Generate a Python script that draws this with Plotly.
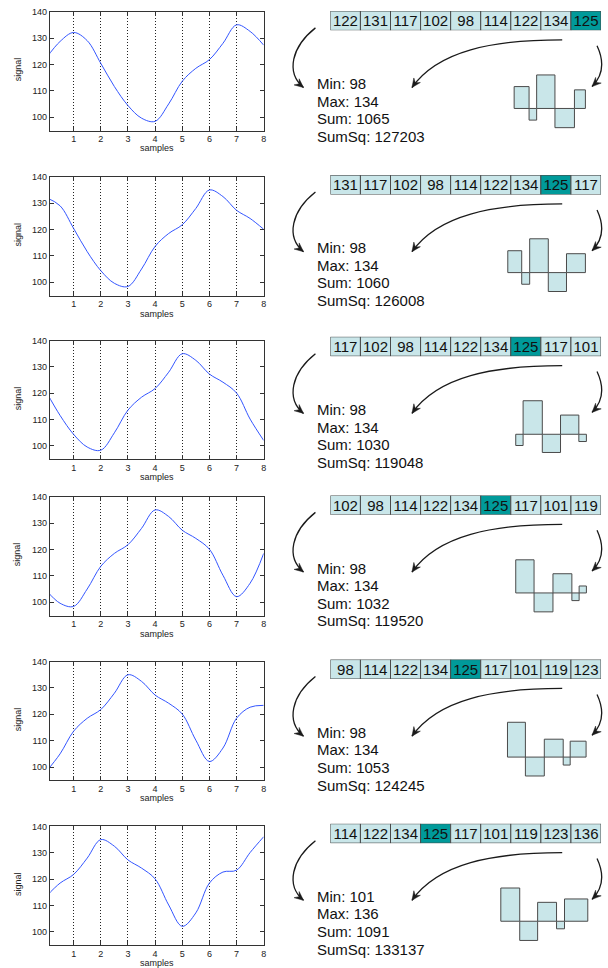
import plotly.graph_objects as go

# ---------------- data ----------------
# continuous signal (t in samples, 0.5 step)
signal_t = [0.0, 0.5, 1.0, 1.5, 2.0, 2.5, 3.0, 3.5, 4.0, 4.5, 5.0, 5.5, 6.0, 6.5,
            7.0, 7.5, 8.0, 8.5, 9.0, 9.5, 10.0, 10.5, 11.0, 11.5, 12.0, 12.5, 13.0]
signal_y = [122.5, 128.7, 132.1, 129.0, 120.4, 111.6, 104.4, 99.6, 98.4, 105.0,
            113.6, 118.5, 121.8, 128.0, 135.0, 132.5, 127.3, 124.2, 120.1, 110.2,
            102.1, 107.2, 118.5, 122.7, 123.4, 130.1, 136.1]

samples = [122, 131, 117, 102, 98, 114, 122, 134, 125, 117, 101, 119, 123, 136]
window_len = 9
highlight_sample = 8          # index of the newest sample (125)

min_vals = [98, 98, 98, 98, 98, 101]
max_vals = [134, 134, 134, 134, 134, 136]
sum_vals = [1065, 1060, 1030, 1032, 1053, 1091]
sumsq_vals = [127203, 126008, 119048, 119520, 124245, 133137]

x_ticks = [1, 2, 3, 4, 5, 6, 7, 8]
y_ticks = [100, 110, 120, 130, 140]

# small step histograms (bar widths and signed heights)
hist_lead = [28.7, 22.3, 30.3, 30.3, 22.0, 15.3]
hist_widths = [
    [15.0, 7.6, 18.4, 19.6, 11.0],
    [14.0, 8.0, 18.7, 18.3, 19.0],
    [7.4, 19.3, 18.3, 18.4, 7.6],
    [18.4, 19.0, 19.0, 7.3, 7.3],
    [18.0, 19.0, 19.0, 7.0, 16.0],
    [19.0, 18.0, 19.0, 8.0, 23.4],
]
hist_heights = [
    [22.0, -11.7, 33.7, -19.3, 18.7],
    [22.0, -11.7, 34.0, -19.0, 19.0],
    [-11.3, 33.7, -18.3, 19.3, -7.3],
    [33.3, -19.0, 19.3, -7.7, 7.0],
    [35.0, -19.0, 18.0, -8.0, 16.0],
    [33.4, -19.3, 19.0, -7.6, 22.4],
]

# ---------------- layout constants ----------------
W, H = 608, 968
FONT = "Liberation Sans, Arial, Helvetica, sans-serif"
plot_tops = [6.7, 172.7, 337.3, 494.3, 660.0, 825.7]
group_tops = [6.0, 171.0, 333.5, 493.0, 658.0, 823.0]
PLOT_H = 119.5
PX0, PX1 = 50, 265
BX0, BX1 = 332, 604
HX0, HX1 = 488, 600
LIGHT = "#c9e6e9"
DARK = "#009a9a"
EDGE = "#4a4a4a"


def xd(a, b):
    return [a / W, b / W]


def yd(top, bottom):
    return [1 - bottom / H, 1 - top / H]


def aname(n, axis):
    return f"{axis}axis" if n == 1 else f"{axis}axis{n}"


def aref(n, axis):
    return axis if n == 1 else f"{axis}{n}"


fig = go.Figure()
layout = {}
shapes = []
annotations = []

OV = 19  # overlay axis in pixel units

for k in range(6):
    n_plot, n_box, n_hist = 3 * k + 1, 3 * k + 2, 3 * k + 3
    top = plot_tops[k]
    gt = group_tops[k]

    # ----- signal plot -----
    xs = [t - k for t in signal_t if k - 0.01 <= t <= k + 8.01]
    ys = [y for t, y in zip(signal_t, signal_y) if k - 0.01 <= t <= k + 8.01]
    fig.add_trace(go.Scatter(x=xs, y=ys, mode="lines",
                             line=dict(color="#3355ff", width=1, shape="spline", smoothing=1.0),
                             xaxis=aref(n_plot, "x"), yaxis=aref(n_plot, "y"),
                             showlegend=False, hoverinfo="skip"))
    layout[aname(n_plot, "x")] = dict(
        domain=xd(PX0, PX1), anchor=aref(n_plot, "y"), range=[0.12, 8],
        tickvals=x_ticks, ticks="inside", ticklen=4, tickcolor="#333",
        showline=True, linecolor="#333", linewidth=1, mirror="ticks",
        showgrid=True, gridcolor="#222", gridwidth=1, griddash="1px,2px",
        zeroline=False, tickfont=dict(size=9, color="#222", family=FONT))
    layout[aname(n_plot, "y")] = dict(
        domain=yd(top, top + PLOT_H), anchor=aref(n_plot, "x"), range=[94.9, 140],
        tickvals=y_ticks, ticks="inside", ticklen=4, tickcolor="#333",
        showline=True, linecolor="#333", linewidth=1, mirror="ticks",
        showgrid=False, zeroline=False, tickfont=dict(size=9, color="#222", family=FONT))
    annotations.append(dict(x=(PX0 + PX1) / 2, y=top + 137.5, xref=aref(OV, "x"), yref=aref(OV, "y"),
                            text="samples", showarrow=False, font=dict(size=9, color="#222", family=FONT),
                            xanchor="center", yanchor="middle"))
    annotations.append(dict(x=18, y=top + 58, xref=aref(OV, "x"), yref=aref(OV, "y"),
                            text="signal", showarrow=False, textangle=-90,
                            font=dict(size=9, color="#222", family=FONT),
                            xanchor="center", yanchor="middle"))

    # ----- sample boxes -----
    win = samples[k:k + window_len]
    hi = highlight_sample - k
    colors = [DARK if i == hi else LIGHT for i in range(window_len)]
    fig.add_trace(go.Bar(x=list(range(window_len)), y=[1] * window_len, width=1,
                         text=[str(v) for v in win], textposition="inside",
                         insidetextanchor="middle", textangle=0, constraintext="none",
                         textfont=dict(size=15, color="#111", family=FONT),
                         insidetextfont=dict(size=15, color="#111", family=FONT),
                         marker=dict(color=colors, line=dict(color=EDGE, width=1)),
                         xaxis=aref(n_box, "x"), yaxis=aref(n_box, "y"),
                         showlegend=False, hoverinfo="skip"))
    layout[aname(n_box, "x")] = dict(domain=xd(BX0, BX1), anchor=aref(n_box, "y"),
                                     range=[-0.5, 8.5], visible=False, fixedrange=True)
    layout[aname(n_box, "y")] = dict(domain=yd(gt, gt + 19.5), anchor=aref(n_box, "x"),
                                     range=[0, 1], visible=False, fixedrange=True)

    # ----- histogram -----
    centers = []
    edge = hist_lead[k]
    for w in hist_widths[k]:
        centers.append(edge + w / 2)
        edge += w
    fig.add_trace(go.Bar(x=centers, y=hist_heights[k], width=hist_widths[k], base=0,
                         marker=dict(color=LIGHT, line=dict(color=EDGE, width=1)),
                         xaxis=aref(n_hist, "x"), yaxis=aref(n_hist, "y"),
                         showlegend=False, hoverinfo="skip"))
    layout[aname(n_hist, "x")] = dict(domain=xd(HX0, HX1), anchor=aref(n_hist, "y"),
                                      range=[0, HX1 - HX0], visible=False)
    layout[aname(n_hist, "y")] = dict(domain=yd(gt + 50, gt + 140), anchor=aref(n_hist, "x"),
                                      range=[98 - 140, 98 - 50], visible=False)

    # ----- statistics text -----
    lines = [f"Min: {min_vals[k]}", f"Max: {max_vals[k]}",
             f"Sum: {sum_vals[k]}", f"SumSq: {sumsq_vals[k]}"]
    for j, txt in enumerate(lines):
        annotations.append(dict(x=317, y=gt + 73 + j * 17.7, xref=aref(OV, "x"), yref=aref(OV, "y"),
                                text=txt, showarrow=False, xanchor="left", yanchor="middle",
                                font=dict(size=15, color="#111", family=FONT)))

    # ----- curved arrows -----
    arrows = [
        ((317, gt + 17), (293, gt + 36), (287, gt + 62), (305, gt + 77)),
        ((565, gt + 29), (495, gt + 29), (440, gt + 40), (414, gt + 77)),
        ((600, gt + 35), (607, gt + 50), (607, gt + 64), (595, gt + 76)),
    ]
    for p0, c1, c2, p3 in arrows:
        shapes.append(dict(type="path", xref=aref(OV, "x"), yref=aref(OV, "y"),
                           path=f"M {p0[0]},{p0[1]} C {c1[0]},{c1[1]} {c2[0]},{c2[1]} {p3[0]},{p3[1]}",
                           line=dict(color="#1a1a1a", width=1.3)))
        dx, dy = p3[0] - c2[0], p3[1] - c2[1]
        ln = (dx * dx + dy * dy) ** 0.5
        ux, uy = dx / ln, dy / ln
        L, hw = 9.0, 4.0
        bx, by = p3[0] - L * ux, p3[1] - L * uy
        nx, ny = -uy, ux
        mx, my = p3[0] - 0.65 * L * ux, p3[1] - 0.65 * L * uy
        shapes.append(dict(type="path", xref=aref(OV, "x"), yref=aref(OV, "y"),
                           path=(f"M {p3[0]},{p3[1]} L {bx + hw * nx},{by + hw * ny} "
                                 f"L {mx},{my} L {bx - hw * nx},{by - hw * ny} Z"),
                           fillcolor="#1a1a1a", line=dict(color="#1a1a1a", width=0.5)))

# overlay axis in pixel units
fig.add_trace(go.Scatter(x=[0], y=[0], mode="markers", marker=dict(opacity=0),
                         xaxis=aref(OV, "x"), yaxis=aref(OV, "y"),
                         showlegend=False, hoverinfo="skip"))
layout[aname(OV, "x")] = dict(domain=[0, 1], anchor=aref(OV, "y"), range=[0, W], visible=False,
                              fixedrange=True)
layout[aname(OV, "y")] = dict(domain=[0, 1], anchor=aref(OV, "x"), range=[H, 0], visible=False,
                              fixedrange=True)

fig.update_layout(**layout)
fig.update_layout(width=W, height=H, margin=dict(l=0, r=0, t=0, b=0),
                  paper_bgcolor="white", plot_bgcolor="rgba(0,0,0,0)",
                  showlegend=False, shapes=shapes, annotations=annotations,
                  font=dict(family=FONT))
fig.write_html("out.html", config={"displayModeBar": False},
               post_script="document.body.style.margin='0';document.body.style.overflow='hidden';")
